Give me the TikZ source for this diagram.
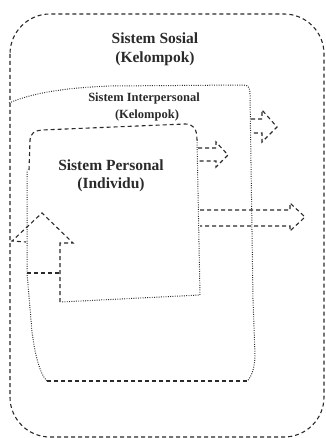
\documentclass[tikz,border=0pt]{standalone}
\usepackage{fontspec}
\setmainfont{Liberation Serif}
\definecolor{ink}{HTML}{2A2A2A}
\begin{document}
\begin{tikzpicture}[x=1pt,y=-1pt,
  dashln/.style={draw=ink,line width=1.1pt,dash pattern=on 4pt off 3pt},
  dotln/.style={draw=ink,line width=1pt,dash pattern=on 0.9pt off 1.4pt},
  bigtxt/.style={text=ink,font=\bfseries\fontsize{15.5}{19}\selectfont,align=center,inner sep=0pt},
  smalltxt/.style={text=ink,font=\bfseries\fontsize{12.5}{16}\selectfont,align=center,inner sep=0pt}]
\useasboundingbox (0,0) rectangle (325,438);
% outer social system
\draw[dashln,rounded corners=40pt] (10,14) rectangle (324,437);
% texts
\node[bigtxt] (sosial) at (155,38) {Sistem Sosial};
\node[bigtxt] (sosialk) at (155,59) {(Kelompok)};
\node[smalltxt] (inter) at (144,98) {Sistem Interpersonal};
\node[smalltxt] (interk) at (147,115) {(Kelompok)};
\node[bigtxt] (pers) at (111,165) {Sistem Personal};
\node[bigtxt] (persi) at (111,185) {(Individu)};
% interpersonal boundary
\draw[dotln] (9,103) .. controls (30,94) and (60,88) .. (110,86) -- (243,85)
  .. controls (249,85) and (250,88) .. (250,95) -- (253,300) -- (255,355)
  .. controls (255,368) and (251,378) .. (247,381);
\draw[dashln] (247,381) -- (47,381);
\draw[dotln] (47,381) .. controls (40,375) and (33,350) .. (31,320) -- (27,273) -- (27,170);
% personal boundary
\draw[dashln] (29,170) -- (30,140) .. controls (31,133) and (34,131) .. (42,130) -- (185,124)
  .. controls (193,124) and (197,128) .. (197,140);
\draw[dotln] (197,140) -- (200,295) -- (61,302);
% upward arrow on left
\draw[dashln] (60,302) -- (60,243) -- (73,243) -- (42,213) -- (12,241) -- (26,242);
\draw[dashln] (27,273) -- (60,273);
% small arrow from personal
\draw[dashln] (198,148) -- (216,148) -- (216,142) -- (228,155) -- (216,167) -- (216,161) -- (198,161);
% small arrow from interpersonal
\draw[dashln] (251,119) -- (262,119) -- (262,110) -- (277,127) -- (262,142) -- (262,133) -- (251,133);
% big arrow
\draw[dashln] (200,210) -- (290,210) -- (290,203) -- (305,217) -- (290,231) -- (290,226) -- (200,226);
\end{tikzpicture}
\end{document}
